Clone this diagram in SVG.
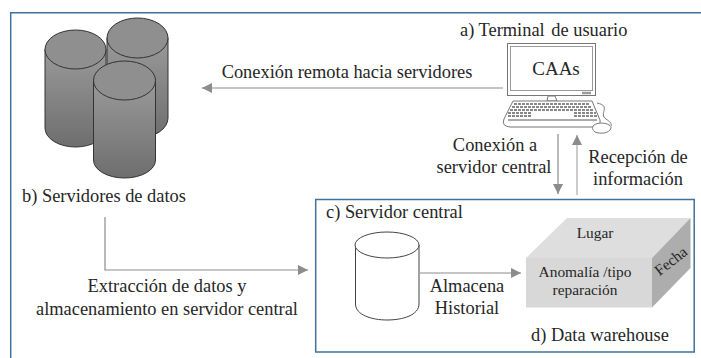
<svg xmlns="http://www.w3.org/2000/svg" width="701" height="358" viewBox="0 0 701 358">
<style>
text{font-family:"Liberation Serif",serif;fill:#262626;font-size:18.4px}
.s{font-size:15.4px}
.c{text-anchor:middle}
.fr{fill:none;stroke:#41719c;stroke-width:1.5}
.ln{fill:none;stroke:#8c8c8c;stroke-width:1.2}
.cy{fill:url(#g);stroke:#333;stroke-width:1}
.cyt{fill:#8f8f8f;stroke:#333;stroke-width:1}
.k{fill:#fff;stroke:#777;stroke-width:1}
</style>
<defs>
<linearGradient id="g" x1="0" y1="0" x2="0" y2="1"><stop offset="0" stop-color="#9a9a9a"/><stop offset="1" stop-color="#6e6e6e"/></linearGradient>
<marker id="a" markerUnits="userSpaceOnUse" markerWidth="12" markerHeight="12" refX="10" refY="5" orient="auto"><path d="M0 0L10 5L0 10Z" fill="#8c8c8c"/></marker>
</defs>
<rect width="701" height="358" fill="#fff"/>
<path class="fr" d="M701 12.700H10.700V358"/>
<g id="connectors">
<path class="ln" marker-end="url(#a)" d="M503 88H202"/>
<path class="ln" marker-end="url(#a)" d="M558 134V194"/>
<path class="ln" marker-end="url(#a)" d="M577 195V135" style="stroke:#aaa"/>
<path class="ln" marker-end="url(#a)" d="M105 217V270H308"/>
<path class="ln" marker-end="url(#a)" d="M420 273H521"/>
</g>
<g id="servidores">
<path class="cy" d="M107 38V118A30.500 20 0 0 0 168 118V38Z"/>
<ellipse class="cyt" cx="137.500" cy="38" rx="30.500" ry="20"/>
<path class="cy" d="M45 49V128A30.500 19 0 0 0 106 128V49Z"/>
<ellipse class="cyt" cx="75.500" cy="49.500" rx="30.500" ry="19.500"/>
<path class="cy" d="M93.500 80V160A31 18 0 0 0 155.500 160V80Z"/>
<ellipse class="cyt" cx="124.500" cy="80.500" rx="31" ry="19.500"/>
<text x="22" y="202">b) Servidores de datos</text>
</g>
<g id="terminal">
<text x="460" y="36">a) Terminal <tspan dx="2">de usuario</tspan></text>
<rect x="507.500" y="43.500" width="88" height="52" fill="#fff" stroke="#777"/>
<rect x="510.500" y="46.500" width="82" height="44" fill="#fff" stroke="#999"/>
<path d="M582 93H591" stroke="#999" stroke-width="2.500"/>
<text x="556" y="75" class="c" style="font-size:19px">CAAs</text>
<path class="k" d="M548 96L547 101H557L555 96Z"/>
<path class="k" d="M513 101H592L600 120Q601 127 595 127H510Q501 126 504 119Z"/>
<path d="M514 104H590M512 107H592M510 110H594M508 113H531M574 113H596M508 116H531M574 116H597" stroke="#888" stroke-width="2" stroke-dasharray="3 1" fill="none"/>
<path d="M508 120H597" stroke="#aaa" stroke-width="2" fill="none"/>
<path class="k" d="M597 103C612 106 598 114 606 119C614 124 612 128 606 127" fill="none"/>
<path class="k" d="M594 125C600 121 612 124 611 128C609 134 600 134 595 132C592 130 592 127 594 125Z"/>
</g>
<g id="labels">
<text x="347" y="78" class="c">Conexión remota hacia servidores</text>
<text x="495" y="151" class="c">Conexión a</text>
<text x="494" y="173" class="c">servidor central</text>
<text x="638" y="163" class="c">Recepción de</text>
<text x="638" y="185" class="c">información</text>
<text x="167" y="292" class="c">Extracción de datos y</text>
<text x="167" y="315" class="c">almacenamiento en servidor central</text>
</g>
<g id="servidor-central">
<rect x="315.700" y="199.500" width="378.500" height="152.500" fill="none" stroke="#41719c" stroke-width="1.500"/>
<text x="326" y="218">c) Servidor central</text>
<path d="M355.500 245V304C355.500 315 372 320 387 320C403 320 419 315 419 304V245" fill="#fff" stroke="#444"/>
<ellipse cx="387" cy="245" rx="32" ry="13" fill="#fff" stroke="#444"/>
<text x="467" y="292" class="c">Almacena</text>
<text x="467" y="314" class="c">Historial</text>
</g>
<g id="data-warehouse">
<path fill="#dedede" d="M526 258L567 218H690.500L652 258Z"/>
<path fill="#d8d8d8" d="M526 258H652V307.500H526Z"/>
<path fill="#adadad" d="M652 258L690.500 218V268L652 307.500Z"/>
<text x="595" y="238" class="s c">Lugar</text>
<text x="585" y="277" class="s c">Anomalía /tipo</text>
<text x="585" y="295" class="s c">reparación</text>
<text x="0" y="0" class="s c" transform="translate(674 265) rotate(-38)">Fecha</text>
<text x="531" y="341">d) Data warehouse</text>
</g>
</svg>
